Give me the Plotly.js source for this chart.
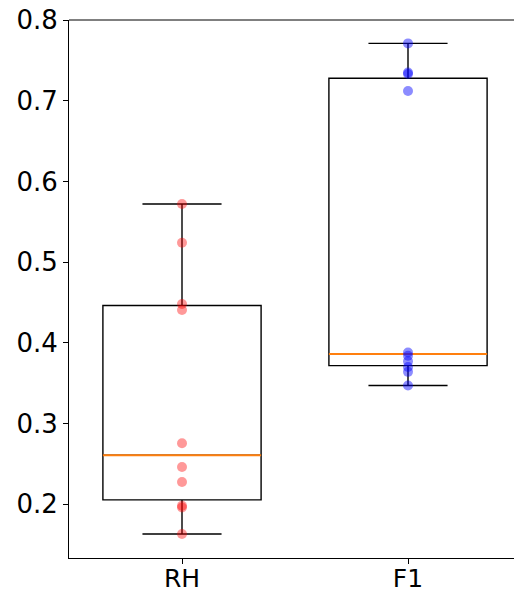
<!DOCTYPE html>
<html>
<head>
<meta charset="utf-8">
<script src="https://cdn.plot.ly/plotly-3.0.1.min.js"></script>
<style>html,body{margin:0;padding:0;background:#fff;}#chart{width:514px;height:594px;}</style>
</head>
<body>
<div id="chart"></div>
<script>
// Data
const categories = ['RH', 'F1'];
const positions = [1, 2];
const rhValues = [0.572, 0.524, 0.448, 0.4406, 0.2755, 0.246, 0.2275, 0.198, 0.196, 0.163];
const f1Values = [0.771, 0.735, 0.733, 0.712, 0.388, 0.384, 0.377, 0.370, 0.364, 0.347];
const seriesValues = [rhValues, f1Values];
const pointColors = ['rgba(255,0,0,0.4)', 'rgba(0,0,255,0.45)'];
const yTicks = [0.2, 0.3, 0.4, 0.5, 0.6, 0.7, 0.8];

// numpy-style linear percentile
function percentile(arr, p) {
  const s = arr.slice().sort((a, b) => a - b);
  const pos = (s.length - 1) * p;
  const lo = Math.floor(pos), hi = Math.ceil(pos);
  return s[lo] + (s[hi] - s[lo]) * (pos - lo);
}
function whiskers(arr, q1, q3) {
  const iqr = q3 - q1;
  const inLo = arr.filter(v => v >= q1 - 1.5 * iqr);
  const inHi = arr.filter(v => v <= q3 + 1.5 * iqr);
  return [Math.min(...inLo), Math.max(...inHi)];
}

const boxWidth = 0.7;
const traces = [];
const stats = seriesValues.map(vals => {
  const q1 = percentile(vals, 0.25), med = percentile(vals, 0.5), q3 = percentile(vals, 0.75);
  const [lo, hi] = whiskers(vals, q1, q3);
  return {q1, med, q3, lo, hi};
});
stats.forEach((st, i) => {
  traces.push({
    type: 'box',
    x: [positions[i]],
    q1: [st.q1],
    median: [st.med],
    q3: [st.q3],
    lowerfence: [st.lo],
    upperfence: [st.hi],
    width: boxWidth,
    whiskerwidth: 0.5,
    boxpoints: false,
    line: {color: '#000000', width: 1.4},
    fillcolor: 'rgba(0,0,0,0)',
    hoverinfo: 'skip',
    showlegend: false
  });
});
stats.forEach((st, i) => {
  traces.push({
    type: 'scatter',
    mode: 'lines',
    x: [positions[i] - boxWidth / 2, positions[i] + boxWidth / 2],
    y: [st.med, st.med],
    line: {color: '#ff7f0e', width: 2},
    hoverinfo: 'skip',
    showlegend: false
  });
});
seriesValues.forEach((vals, i) => {
  traces.push({
    type: 'scatter',
    mode: 'markers',
    x: vals.map(() => positions[i]),
    y: vals,
    marker: {color: pointColors[i], size: 10, line: {width: 0}},
    hoverinfo: 'skip',
    showlegend: false
  });
});

const layout = {
  width: 514,
  height: 594,
  margin: {l: 69, r: 0, t: 20, b: 36, pad: 0},
  paper_bgcolor: '#ffffff',
  plot_bgcolor: '#ffffff',
  font: {family: 'DejaVu Sans', size: 26, color: '#000000'},
  xaxis: {
    range: [0.5, 2.469],
    tickmode: 'array',
    tickvals: positions,
    ticktext: categories,
    ticks: 'outside',
    ticklen: 5,
    tickwidth: 1,
    tickcolor: '#000000',
    ticklabelstandoff: -7,
    showline: true,
    linecolor: '#000000',
    linewidth: 1,
    showgrid: false,
    zeroline: false,
    tickfont: {family: 'DejaVu Sans', size: 25, color: '#000000'}
  },
  yaxis: {
    range: [0.13333, 0.8],
    tickmode: 'array',
    tickvals: yTicks,
    ticktext: yTicks.map(v => v.toFixed(1)),
    ticks: 'outside',
    ticklen: 5,
    tickwidth: 1,
    tickcolor: '#000000',
    showline: true,
    linecolor: '#000000',
    linewidth: 1,
    showgrid: false,
    zeroline: false,
    tickfont: {family: 'DejaVu Sans', size: 26, color: '#000000'}
  },
  shapes: [{
    type: 'line', xref: 'paper', yref: 'paper',
    x0: 0, x1: 1, y0: 1, y1: 1,
    line: {color: '#000000', width: 1}
  }]
};

Plotly.newPlot('chart', traces, layout, {staticPlot: true, displayModeBar: false});
</script>
</body>
</html>
